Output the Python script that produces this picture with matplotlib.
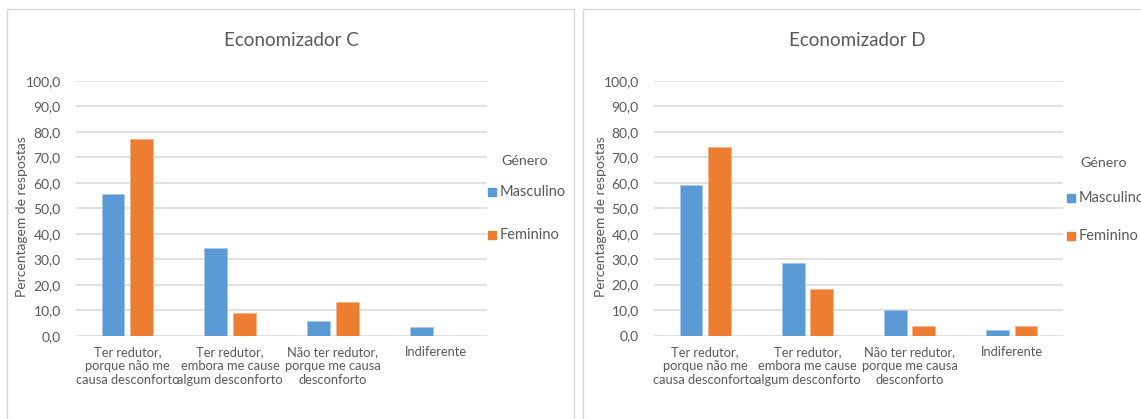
import numpy as np
import matplotlib
matplotlib.use("Agg")
import matplotlib.pyplot as plt
from matplotlib.patches import Rectangle
from matplotlib.ticker import FuncFormatter

plt.rcParams['font.family'] = ['Lato', 'DejaVu Sans']

# respostas (%) por género
categorias = ["Ter redutor,\nporque não me\ncausa desconforto",
              "Ter redutor,\nembora me cause\nalgum desconforto",
              "Não ter redutor,\nporque me causa\ndesconforto",
              "Indiferente"]
c_masc = [55.7, 34.4, 5.7, 3.6]
c_fem = [77.3, 8.9, 13.5, 0.0]
d_masc = [59.0, 28.4, 10.0, 2.0]
d_fem = [74.0, 18.4, 3.6, 3.6]
titulos = ["Economizador C", "Economizador D"]
generos = ["Masculino", "Feminino"]

AZUL = '#5B9BD5'
LARANJA = '#ED7D31'
CINZA_TXT = '#595959'
CINZA_GRID = '#D9D9D9'

W, H = 1141, 419
fig = plt.figure(figsize=(W / 100, H / 100), dpi=100)


def fx(x):
    return x / W


def fy(y):
    return 1 - y / H


def painel(x0, x1, ax_box, masc, fem, titulo, tit_x, ylab_x, leg_x, leg_y):
    # moldura do gráfico
    fig.patches.append(Rectangle((fx(x0), fy(440)), fx(x1 - x0), (440 - 9) / H,
                                 transform=fig.transFigure, fill=False,
                                 edgecolor=CINZA_GRID, lw=1.0))
    l, t, r, b = ax_box
    ax = fig.add_axes([fx(l), fy(b), fx(r - l), (b - t) / H])
    x = np.arange(len(categorias))
    w = 0.222
    ax.bar(x - 0.139, masc, w, color=AZUL, edgecolor='#A9C8EA', lw=0.6, zorder=3)
    ax.bar(x + 0.139, fem, w, color=LARANJA, edgecolor='#F5B48A', lw=0.6, zorder=3)
    ax.set_xlim(-0.5, 3.5)
    ax.set_ylim(0, 100)
    ax.set_yticks(np.arange(0, 101, 10))
    ax.yaxis.set_major_formatter(FuncFormatter(lambda v, p: f"{v:.1f}".replace('.', ',')))
    ax.set_xticks(x)
    ax.set_xticklabels(categorias, linespacing=1.2)
    ax.tick_params(axis='y', length=0, pad=11, labelsize=10, labelcolor=CINZA_TXT)
    ax.tick_params(axis='x', length=0, pad=7.5, labelsize=9.3, labelcolor=CINZA_TXT)
    ax.grid(axis='y', color=CINZA_GRID, lw=1.1, zorder=0)
    ax.set_axisbelow(True)
    for s in ax.spines.values():
        s.set_visible(False)
    ax.set_facecolor('none')

    fig.text(fx(tit_x), fy(40), titulo, ha='center', va='center',
             fontsize=13.5, color=CINZA_TXT)
    fig.text(fx(ylab_x), fy(216.5), "Percentagem de respostas", rotation=90,
             ha='center', va='center', fontsize=10, color=CINZA_TXT)

    # legenda
    fig.text(fx(leg_x + 13), fy(leg_y[0]), "Género", ha='left', va='center',
             fontsize=10.3, color=CINZA_TXT)
    for nome, cor, yy in zip(generos, [AZUL, LARANJA], leg_y[1:]):
        fig.patches.append(Rectangle((fx(leg_x), fy(yy + 4)), fx(8), 8 / H,
                                     transform=fig.transFigure, color=cor))
        fig.text(fx(leg_x + 12), fy(yy), nome, ha='left', va='center',
                 fontsize=10.5, color=CINZA_TXT)
    return ax


painel(7, 574, (76, 80.7, 487, 336), c_masc, c_fem, titulos[0],
       291, 22.5, 488, (161, 192.3, 235))
painel(583, 1250, (654, 81, 1063, 335.5), d_masc, d_fem, titulos[1],
       857.7, 600.7, 1067, (163, 197.5, 235.5))

fig.savefig('out.png', dpi=100)
